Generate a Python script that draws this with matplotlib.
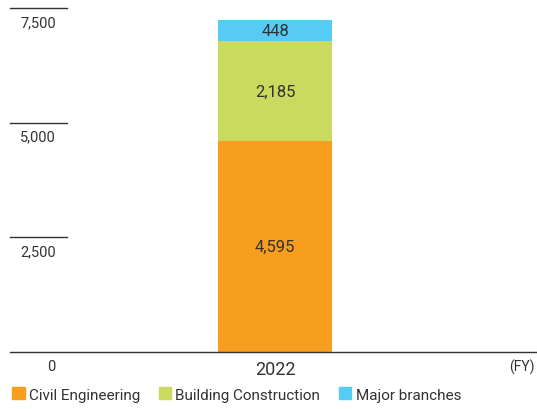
import matplotlib.pyplot as plt
import matplotlib.transforms as mtransforms
from matplotlib.patches import Patch

plt.rcParams['font.family'] = ['Roboto', 'DejaVu Sans']

years = ['2022']
civil = [4595]
building = [2185]
branches = [448]
yticks = [0, 2500, 5000, 7500]
series_names = ['Civil Engineering', 'Building Construction', 'Major branches']
colors = ['#F79E1E', '#C9DA5E', '#56CBF3']
txt = '#333333'

fig = plt.figure(figsize=(5.37, 4.10), dpi=100)
ax = fig.add_axes([10/537, 57/410, 527/537, 344/410])

x = range(len(years))
ax.bar(x, civil, width=1, color=colors[0])
ax.bar(x, building, width=1, bottom=civil, color=colors[1])
bot2 = [c + b for c, b in zip(civil, building)]
ax.bar(x, branches, width=1, bottom=bot2, color=colors[2])

for i in x:
    ax.text(i, civil[i] / 2, f'{civil[i]:,}', ha='center', va='center', fontsize=12, color=txt)
    ax.text(i, civil[i] + building[i] / 2, f'{building[i]:,}', ha='center', va='center', fontsize=12, color=txt)
    ax.text(i, bot2[i] + branches[i] / 2, f'{branches[i]:,}', ha='center', va='center', fontsize=12, color=txt)

ax.set_xlim(-2.325, 2.298)
ax.set_ylim(0, 7500)
for s in ax.spines.values():
    s.set_visible(False)
ax.set_xticks([])
ax.set_yticks([])

# baseline
ax.axhline(0, color='#333333', lw=1, clip_on=False)

# y tick lines with labels underneath
trans = mtransforms.blended_transform_factory(ax.transAxes, ax.transData)
for v in yticks[1:]:
    ax.plot([0, 0.108], [v, v], color='#333333', lw=1, transform=trans, clip_on=False)
for v in yticks:
    ax.annotate(f'{v:,}', xy=(0.087, v), xycoords=trans, xytext=(0, -5),
                textcoords='offset points', ha='right', va='top', fontsize=10.5, color=txt)

for i in x:
    ax.annotate(years[i], xy=(i, 0), xytext=(0, -6), textcoords='offset points',
                ha='center', va='top', fontsize=13, color=txt)
ax.annotate('(FY)', xy=(1.0, 0), xycoords=trans, xytext=(-2, -5), textcoords='offset points',
            ha='right', va='top', fontsize=10, color=txt)

handles = [Patch(color=c, label=n) for c, n in zip(colors, series_names)]
fig.legend(handles=handles, loc='lower left', bbox_to_anchor=(0.003, -0.008), ncol=3, frameon=False,
           handlelength=0.8, handleheight=0.8, handletextpad=0.3, columnspacing=1.2,
           fontsize=11, labelcolor=txt, borderaxespad=0.3)

fig.savefig('out.png', dpi=100)
